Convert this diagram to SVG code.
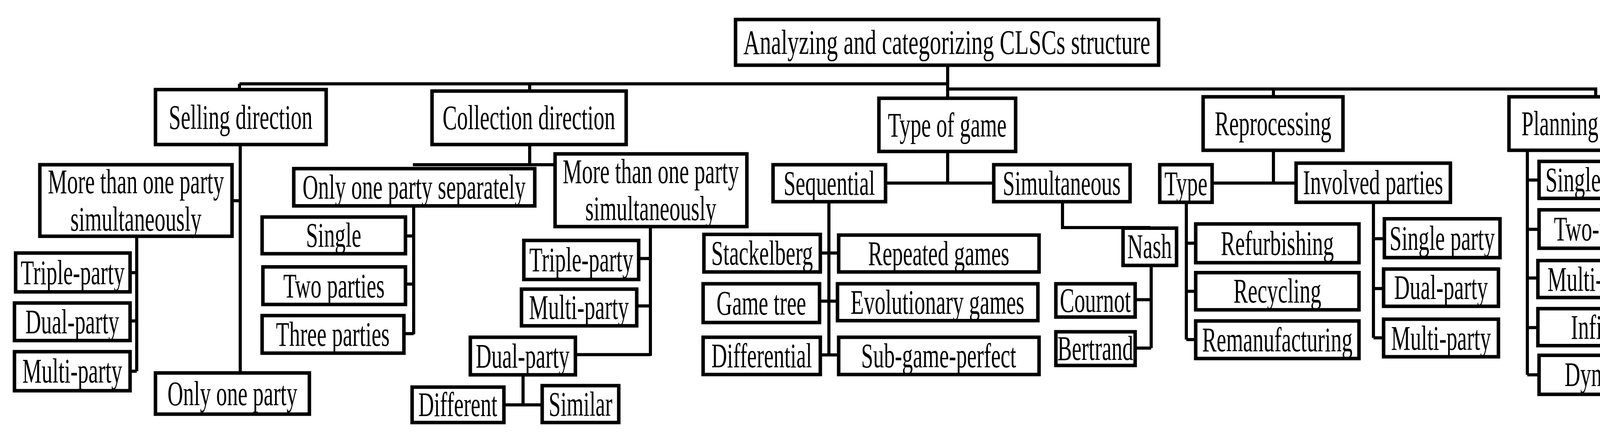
<svg xmlns="http://www.w3.org/2000/svg" width="4342" height="1117" viewBox="0 0 4342 1117">
<style>
rect.b{fill:#fff;stroke:#000;stroke-width:9;vector-effect:non-scaling-stroke}
text{font-family:"Liberation Serif","Times New Roman",serif;font-size:88px;text-anchor:middle;fill:#000}
#connectors path{fill:none;stroke:#000;stroke-width:8;vector-effect:non-scaling-stroke}
</style>
<rect x="0" y="0" width="4342" height="1117" fill="#fff"/>
<g transform="scale(1,0.77)">
<g id="connectors">
<path d="M2426 217V296M613 279H2426M2426 296H4085V322M613 279V298M1356 279V303M2426 296V327M3260 296V322"/>
<path d="M615 481V1241M594 668H615M350 786V1235M333 907H350M333 1068H350M333 1235H350"/>
<path d="M1356 481V548M1057 548H1421M1059 685V1112M1038 785H1059M1038 945H1059M1034 1110H1059"/>
<path d="M1665 754V1184M1635 860H1665M1630 1018H1665M1473 1180H1665M1339 1247V1347M1290 1347H1388"/>
<path d="M2426 504V609M2267 609H2544M2122 671V1181M2100 842H2147M2098 1002H2144M2100 1181H2147"/>
<path d="M2720 671V757H2945M2947 883V1158M2906 997H2947M2906 1158H2947"/>
<path d="M3260 500V609M3103 609H3318M3037 673V1130M3037 809H3061M3037 969H3061M3037 1130H3061M3516 673V1124M3516 794H3544M3516 960H3542M3516 1124H3542"/>
<path d="M3910 500V1247M3910 599H3940M3910 763H3940M3910 925H3937M3910 1090H3937M3910 1247H3940"/>
</g>
<g id="root"><rect class="b" x="1883" y="65" width="1083" height="152"/><text transform="translate(2424,179) scale(0.66,1.3)">Analyzing and categorizing CLSCs structure</text></g>
<g id="sell"><rect class="b" x="398" y="298" width="437" height="183"/><text transform="translate(616,428) scale(0.63,1.3)">Selling direction</text></g>
<g id="coll"><rect class="b" x="1106" y="303" width="497" height="178"/><text transform="translate(1354,430) scale(0.63,1.3)">Collection direction</text></g>
<g id="tog"><rect class="b" x="2250" y="327" width="350" height="177"/><text transform="translate(2425,454) scale(0.63,1.3)">Type of game</text></g>
<g id="repro"><rect class="b" x="3080" y="322" width="358" height="178"/><text transform="translate(3259,449) scale(0.63,1.3)">Reprocessing</text></g>
<g id="plan"><rect class="b" x="3863" y="322" width="444" height="178"/><text transform="translate(4085,449) scale(0.63,1.3)">Planning horizon</text></g>
<g id="smore"><rect class="b" x="102" y="548" width="492" height="238"/><text transform="translate(348,643) scale(0.63,1.3)">More than one party</text><text transform="translate(348,767) scale(0.63,1.3)">simultaneously</text></g>
<g id="s_trip"><rect class="b" x="40" y="842" width="293" height="129"/><text transform="translate(186,945) scale(0.63,1.3)">Triple-party</text></g>
<g id="s_dual"><rect class="b" x="37" y="1008" width="296" height="125"/><text transform="translate(185,1109) scale(0.63,1.3)">Dual-party</text></g>
<g id="s_multi"><rect class="b" x="37" y="1170" width="296" height="130"/><text transform="translate(185,1273) scale(0.63,1.3)">Multi-party</text></g>
<g id="sonly"><rect class="b" x="398" y="1241" width="394" height="137"/><text transform="translate(595,1348) scale(0.63,1.3)">Only one party</text></g>
<g id="conly"><rect class="b" x="752" y="561" width="617" height="124"/><text transform="translate(1060,661) scale(0.63,1.3)">Only one party separately</text></g>
<g id="cmore"><rect class="b" x="1421" y="512" width="491" height="242"/><text transform="translate(1666,609) scale(0.63,1.3)">More than one party</text><text transform="translate(1666,733) scale(0.63,1.3)">simultaneously</text></g>
<g id="single"><rect class="b" x="671" y="722" width="367" height="122"/><text transform="translate(854,821) scale(0.63,1.3)">Single</text></g>
<g id="two"><rect class="b" x="673" y="888" width="365" height="125"/><text transform="translate(855,989) scale(0.63,1.3)">Two parties</text></g>
<g id="three"><rect class="b" x="671" y="1050" width="363" height="125"/><text transform="translate(852,1151) scale(0.63,1.3)">Three parties</text></g>
<g id="c_trip"><rect class="b" x="1341" y="800" width="294" height="130"/><text transform="translate(1488,903) scale(0.63,1.3)">Triple-party</text></g>
<g id="c_multi"><rect class="b" x="1335" y="962" width="295" height="122"/><text transform="translate(1482,1061) scale(0.63,1.3)">Multi-party</text></g>
<g id="c_dual"><rect class="b" x="1204" y="1122" width="269" height="125"/><text transform="translate(1338,1223) scale(0.63,1.3)">Dual-party</text></g>
<g id="diff"><rect class="b" x="1055" y="1288" width="235" height="118"/><text transform="translate(1172,1385) scale(0.63,1.3)">Different</text></g>
<g id="sim"><rect class="b" x="1388" y="1283" width="196" height="123"/><text transform="translate(1486,1383) scale(0.63,1.3)">Similar</text></g>
<g id="seq"><rect class="b" x="1979" y="548" width="288" height="123"/><text transform="translate(2123,648) scale(0.63,1.3)">Sequential</text></g>
<g id="simu"><rect class="b" x="2544" y="548" width="349" height="123"/><text transform="translate(2718,648) scale(0.63,1.3)">Simultaneous</text></g>
<g id="stack"><rect class="b" x="1802" y="780" width="298" height="125"/><text transform="translate(1951,881) scale(0.63,1.3)">Stackelberg</text></g>
<g id="rep"><rect class="b" x="2147" y="782" width="513" height="123"/><text transform="translate(2403,882) scale(0.63,1.3)">Repeated games</text></g>
<g id="gtree"><rect class="b" x="1800" y="944" width="298" height="129"/><text transform="translate(1949,1047) scale(0.63,1.3)">Game tree</text></g>
<g id="evo"><rect class="b" x="2144" y="944" width="513" height="123"/><text transform="translate(2400,1044) scale(0.63,1.3)">Evolutionary games</text></g>
<g id="dif"><rect class="b" x="1800" y="1122" width="300" height="124"/><text transform="translate(1950,1222) scale(0.63,1.3)">Differential</text></g>
<g id="sub"><rect class="b" x="2147" y="1122" width="513" height="124"/><text transform="translate(2403,1222) scale(0.63,1.3)">Sub-game-perfect</text></g>
<g id="nash"><rect class="b" x="2875" y="759" width="137" height="124"/><text transform="translate(2943,859) scale(0.63,1.3)">Nash</text></g>
<g id="cour"><rect class="b" x="2703" y="944" width="203" height="111"/><text transform="translate(2804,1038) scale(0.63,1.3)">Cournot</text></g>
<g id="bert"><rect class="b" x="2703" y="1104" width="203" height="112"/><text transform="translate(2804,1198) scale(0.63,1.3)">Bertrand</text></g>
<g id="type"><rect class="b" x="2969" y="548" width="134" height="125"/><text transform="translate(3036,649) scale(0.63,1.3)">Type</text></g>
<g id="inv"><rect class="b" x="3318" y="543" width="395" height="130"/><text transform="translate(3515,646) scale(0.63,1.3)">Involved parties</text></g>
<g id="refurb"><rect class="b" x="3061" y="745" width="418" height="129"/><text transform="translate(3270,848) scale(0.63,1.3)">Refurbishing</text></g>
<g id="recyc"><rect class="b" x="3061" y="907" width="418" height="124"/><text transform="translate(3270,1007) scale(0.63,1.3)">Recycling</text></g>
<g id="reman"><rect class="b" x="3061" y="1068" width="418" height="125"/><text transform="translate(3270,1169) scale(0.63,1.3)">Remanufacturing</text></g>
<g id="sp"><rect class="b" x="3544" y="728" width="296" height="129"/><text transform="translate(3692,831) scale(0.63,1.3)">Single party</text></g>
<g id="dp"><rect class="b" x="3542" y="895" width="294" height="124"/><text transform="translate(3689,995) scale(0.63,1.3)">Dual-party</text></g>
<g id="mp"><rect class="b" x="3542" y="1062" width="294" height="125"/><text transform="translate(3689,1163) scale(0.63,1.3)">Multi-party</text></g>
<g id="p1"><rect class="b" x="3940" y="537" width="335" height="123"/><text transform="translate(4107,637) scale(0.63,1.3)">Single-period</text></g>
<g id="p2"><rect class="b" x="3940" y="698" width="335" height="128"/><text transform="translate(4107,800) scale(0.63,1.3)">Two-period</text></g>
<g id="p3"><rect class="b" x="3937" y="867" width="333" height="123"/><text transform="translate(4103,967) scale(0.63,1.3)">Multi-period</text></g>
<g id="p4"><rect class="b" x="3937" y="1027" width="333" height="123"/><text transform="translate(4103,1127) scale(0.63,1.3)">Infinite</text></g>
<g id="p5"><rect class="b" x="3940" y="1182" width="335" height="130"/><text transform="translate(4107,1285) scale(0.63,1.3)">Dynamic</text></g>
</g>
</svg>
